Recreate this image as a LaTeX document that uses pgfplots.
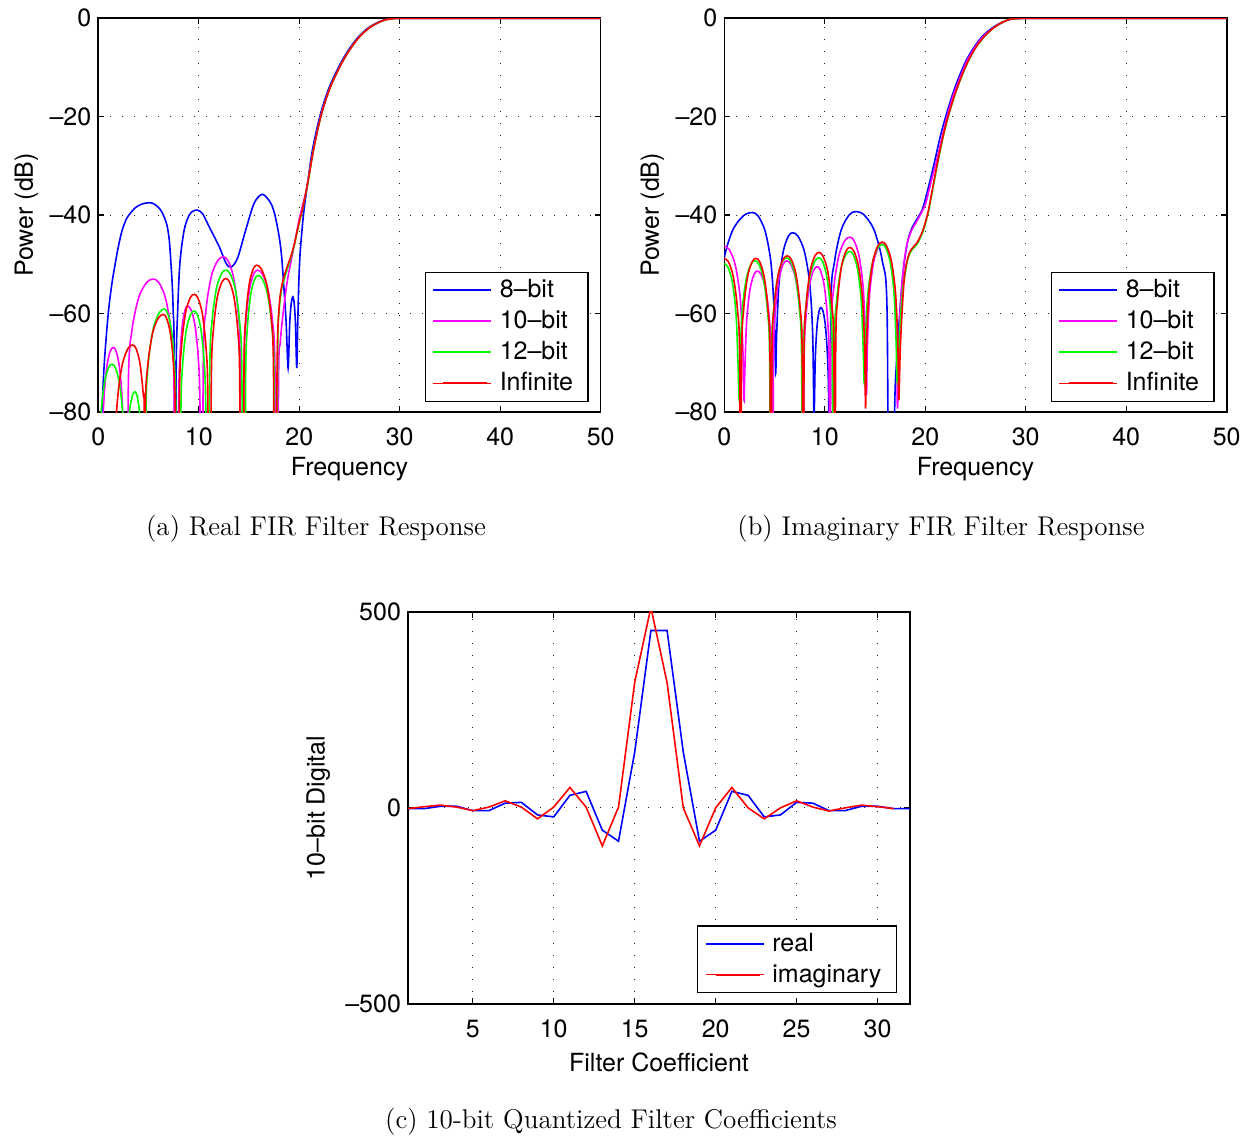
\documentclass[border=0pt]{standalone}
\usepackage{fontspec}
\newfontfamily\hv{TeX Gyre Heros}
\usepackage{pgfplots}
\pgfplotsset{compat=1.18}
\definecolor{mblue}{RGB}{0,0,255}
\definecolor{mmag}{RGB}{255,0,255}
\definecolor{mgreen}{RGB}{0,255,0}
\definecolor{mred}{RGB}{255,0,0}
\newcommand\axf{\hv\fontsize{12.5}{15}\selectfont}
\pgfplotsset{
  myaxis/.style={
    scale only axis, anchor=south west,
    label style={font=\axf},
    tick label style={font=\axf},
    /pgf/number format/assume math mode=true,
    tick align=inside, tick pos=both,
    major tick length=3pt,
    xticklabel shift=4.5pt,
    grid=major,
    major grid style={black!85, line width=0.5pt, dash pattern=on 0.5pt off 5.5pt},
    axis line style={line width=0.8pt},
    every tick/.style={black, line width=0.6pt},
    legend cell align=left,
    legend style={font=\axf, draw=black, line width=0.6pt, fill=white,
      inner xsep=3.5pt, inner ysep=1.25pt, row sep=0pt,
      nodes={inner xsep=4pt, inner ysep=2.45pt}},
    legend image code/.code={\path (-5pt,0pt) -- (24pt,0pt); \draw[#1, line width=0.9pt] (0pt,0pt) -- (22pt,0pt);},
    every axis plot/.append style={line width=0.8pt},
  },
  resp/.style={myaxis, width=251.2pt, height=197pt,
    xmin=0, xmax=50, ymin=-80, ymax=0,
    xtick={0,10,20,30,40,50}, ytick={-80,-60,-40,-20,0},
    yticklabels={–80,–60,–40,–20,0},
    xlabel={Frequency}, ylabel={Power (dB)},
    xlabel style={at={(axis description cs:0.5,-0.1447)}, anchor=center},
    ylabel style={at={(axis description cs:-0.143,0.5)}, anchor=center},
    legend style={at={(0.976,0.0255)}, anchor=south east},
    every axis plot/.append style={smooth, tension=0.5},
  },
}
\begin{document}
\begin{tikzpicture}
\useasboundingbox (0pt,0pt) rectangle (624.5pt,-568.5pt);
% ---------------- (a) ----------------
\begin{axis}[resp, at={(49.15pt,-206pt)}]
\addplot[mblue] coordinates {(0.2,-95) (0.37,-80) (0.6,-70) (0.99,-60) (1.35,-54) (1.69,-49.8) (2.0,-46.4) (2.36,-43.2) (2.82,-40.7) (3.25,-39.5) (3.7,-38.5) (4.3,-37.8) (5.0,-37.5) (5.5,-37.7) (6.06,-38.6) (6.4,-39.7) (6.8,-41.8) (7.05,-44.8) (7.23,-49.8) (7.38,-55) (7.46,-60) (7.55,-68) (7.62,-120) (7.65,-120) (7.75,-72) (7.89,-60) (8.12,-49.8) (8.55,-43) (9.05,-40) (9.45,-39.2) (9.88,-39.0) (10.4,-39.8) (11.04,-42.4) (12.03,-46.4) (12.69,-49.7) (13.19,-50.6) (13.85,-48.8) (14.68,-43.0) (15.51,-37.6) (16.34,-35.8) (17.17,-37.6) (17.6,-40.2) (18.0,-44.4) (18.25,-48.5) (18.49,-55.3) (18.7,-62) (18.89,-71.1) (19.05,-62) (19.2,-58) (19.36,-56.6) (19.5,-58) (19.62,-62) (19.75,-71.1) (19.85,-62) (19.95,-54) (20.05,-49) (20.15,-46) (20.4,-40.3) (20.65,-36.2) (20.85,-33.3) (21.25,-27.5) (21.75,-22.5) (22.25,-18.5) (22.9,-14.5) (23.55,-11.5) (24.3,-8.5) (25.1,-5.9) (25.9,-3.8) (26.8,-2.1) (27.7,-1.0) (28.5,-0.35) (29.4,-0.1) (30.2,-0.05) (50,-0.05)};
\addplot[mmag] coordinates {(0.34,-120) (0.409,-87.4) (0.57,-77.1) (0.858,-70.65) (1.203,-67.59) (1.49,-66.9) (1.763,-67.59) (2.09,-70.65) (2.362,-77.1) (2.515,-87.4) (2.58,-120) (2.84,-120) (2.998,-73.5) (3.366,-63.2) (4.024,-56.75) (4.813,-53.69) (5.47,-53) (6.018,-53.69) (6.675,-56.75) (7.222,-63.2) (7.529,-73.5) (7.66,-120) (7.94,-120) (7.997,-79) (8.13,-68.7) (8.368,-62.25) (8.653,-59.19) (8.89,-58.5) (9.218,-59.19) (9.611,-62.25) (9.938,-68.7) (10.121,-79) (10.2,-120) (10.33,-120) (10.456,-69) (10.75,-58.7) (11.275,-52.25) (11.905,-49.19) (12.43,-48.5) (12.878,-49.19) (13.415,-52.25) (13.862,-58.7) (14.113,-69) (14.22,-120) (14.42,-120) (14.505,-71.7) (14.704,-61.4) (15.059,-54.95) (15.485,-51.89) (15.84,-51.2) (16.305,-51.89) (16.863,-54.95) (17.328,-61.4) (17.588,-71.7) (17.7,-120) (17.8,-120) (17.95,-72) (18.1,-66) (18.39,-60) (18.8,-53.5) (19.32,-48.0) (19.65,-44.5) (19.98,-41.0) (20.3,-38.3) (20.65,-35.4) (20.9,-32.6) (21.35,-27.5) (21.85,-22.5) (22.35,-18.5) (23,-14.5) (23.65,-11.5) (24.4,-8.5) (25.2,-5.9) (26,-3.8) (26.9,-2.1) (27.8,-1.0) (28.6,-0.35) (29.5,-0.1) (30.3,-0.05) (50,-0.05)};
\addplot[mgreen] coordinates {(0,-120) (0.082,-90.8) (0.272,-80.5) (0.612,-74.05) (1.02,-70.99) (1.36,-70.3) (1.695,-70.99) (2.097,-74.05) (2.432,-80.5) (2.62,-90.8) (2.70,-120) (2.729,-96.4) (2.867,-86.1) (3.112,-79.65) (3.407,-76.59) (3.65,-75.9) (3.848,-76.59) (4.085,-79.65) (4.282,-86.1) (4.393,-96.4) (4.44,-120) (4.63,-120) (4.746,-79.6) (5.016,-69.3) (5.499,-62.85) (6.078,-59.79) (6.56,-59.1) (6.868,-59.79) (7.237,-62.85) (7.544,-69.3) (7.716,-79.6) (7.79,-120) (8.136,-120) (8.22,-80) (8.417,-69.7) (8.768,-63.25) (9.189,-60.19) (9.54,-59.5) (9.849,-60.19) (10.219,-63.25) (10.527,-69.7) (10.70,-80) (10.774,-120) (10.99,-120) (11.092,-71.7) (11.33,-61.4) (11.755,-54.95) (12.265,-51.89) (12.69,-51.2) (13.115,-51.89) (13.625,-54.95) (14.05,-61.4) (14.288,-71.7) (14.39,-120) (14.586,-120) (14.665,-72.8) (14.849,-62.5) (15.177,-56.05) (15.571,-52.99) (15.9,-52.3) (16.326,-52.99) (16.837,-56.05) (17.263,-62.5) (17.502,-72.8) (17.604,-120) (17.7,-120) (17.85,-68) (18.0,-59.5) (18.25,-55) (18.5,-53) (18.8,-51) (19.15,-48.8) (19.5,-46.2) (19.82,-43.2) (20.1,-40.7) (20.35,-38.7) (20.9,-32.9) (21.35,-27.5) (21.85,-22.5) (22.35,-18.5) (23,-14.5) (23.65,-11.5) (24.4,-8.5) (25.2,-5.9) (26,-3.8) (26.9,-2.1) (27.8,-1.0) (28.6,-0.35) (29.5,-0.1) (30.3,-0.05) (50,-0.05)};
\addplot[mred] coordinates {(1.582,-120) (1.692,-86.9) (1.95,-76.6) (2.409,-70.15) (2.961,-67.09) (3.42,-66.4) (3.753,-67.09) (4.152,-70.15) (4.484,-76.6) (4.57,-80.5) (4.62,-120) (4.68,-80) (4.929,-70.4) (5.407,-63.95) (5.982,-60.89) (6.46,-60.2) (6.781,-60.89) (7.166,-63.95) (7.486,-70.4) (7.666,-80.7) (7.743,-120) (7.988,-120) (8.081,-76.6) (8.298,-66.3) (8.686,-59.85) (9.152,-56.79) (9.54,-56.1) (9.902,-56.79) (10.336,-59.85) (10.698,-66.3) (10.901,-76.6) (10.988,-120) (11.157,-120) (11.249,-73.4) (11.464,-63.1) (11.847,-56.65) (12.307,-53.59) (12.69,-52.9) (13.058,-53.59) (13.499,-56.65) (13.867,-63.1) (14.073,-73.4) (14.161,-120) (14.422,-120) (14.503,-70.7) (14.692,-60.4) (15.029,-53.95) (15.433,-50.89) (15.77,-50.2) (16.212,-50.89) (16.742,-53.95) (17.184,-60.4) (17.431,-70.7) (17.537,-120) (17.65,-120) (17.8,-70) (18.0,-58.6) (18.25,-54.5) (18.49,-52.5) (18.8,-50.5) (19.15,-48.5) (19.5,-46) (19.82,-43.0) (20.1,-40.5) (20.35,-38.6) (20.9,-32.9) (21.35,-27.5) (21.85,-22.5) (22.35,-18.5) (23,-14.5) (23.65,-11.5) (24.4,-8.5) (25.2,-5.9) (26,-3.8) (26.9,-2.1) (27.8,-1.0) (28.6,-0.35) (29.5,-0.1) (30.3,-0.05) (50,-0.05)};
\legend{8–bit,10–bit,12–bit,Infinite}
\end{axis}
% ---------------- (b) ----------------
\begin{axis}[resp, at={(362.15pt,-206pt)}]
\addplot[mblue] coordinates {(-0.83,-120) (-0.613,-60) (-0.108,-49.7) (0.795,-43.25) (1.878,-40.19) (2.78,-39.5) (3.363,-40.19) (4.062,-43.25) (4.644,-49.7) (4.97,-60) (5.11,-72.2) (5.211,-64.1) (5.448,-53.8) (5.871,-47.35) (6.378,-44.29) (6.8,-43.6) (7.33,-44.29) (7.966,-47.35) (8.496,-53.8) (8.793,-64.1) (8.92,-81) (8.961,-79.3) (9.058,-69.0) (9.231,-62.55) (9.438,-59.49) (9.61,-58.8) (9.818,-59.49) (10.067,-62.55) (10.274,-69.0) (10.39,-79.3) (10.44,-120) (10.599,-59.8) (10.97,-49.5) (11.633,-43.05) (12.428,-39.99) (13.09,-39.3) (13.918,-39.99) (14.91,-43.05) (15.738,-49.5) (16.201,-59.8) (16.4,-120) (16.85,-120) (16.95,-80) (17.2,-68) (17.46,-60) (17.8,-51.5) (18.2,-45.8) (18.6,-43) (19.12,-41.0) (19.72,-38.8) (20.3,-34.5) (20.97,-28.8) (21.5,-24) (22.04,-20) (22.7,-15.6) (23.37,-11.9) (24.1,-8.5) (24.9,-5.8) (25.7,-3.7) (26.6,-2.1) (27.5,-1.0) (28.4,-0.3) (29.4,-0.1) (30.1,-0.05) (50,-0.05)};
\addplot[mmag] coordinates {(0,-46.3) (0.49,-46.99) (1.078,-50.05) (1.568,-56.5) (1.842,-66.8) (1.96,-77.6) (2.039,-71.9) (2.224,-61.6) (2.554,-55.15) (2.95,-52.09) (3.28,-51.4) (3.663,-52.09) (4.122,-55.15) (4.504,-61.6) (4.718,-71.9) (4.81,-120) (4.893,-69.8) (5.088,-59.5) (5.436,-53.05) (5.853,-49.99) (6.2,-49.3) (6.613,-49.99) (7.108,-53.05) (7.52,-59.5) (7.751,-69.8) (7.85,-120) (7.933,-71) (8.128,-60.7) (8.476,-54.25) (8.893,-51.19) (9.24,-50.5) (9.558,-51.19) (9.939,-54.25) (10.256,-60.7) (10.434,-71) (10.51,-120) (10.629,-65) (10.906,-54.7) (11.401,-48.25) (11.995,-45.19) (12.49,-44.5) (12.905,-45.19) (13.403,-48.25) (13.818,-54.7) (14.05,-65) (14.15,-76.5) (14.244,-66.4) (14.462,-56.1) (14.852,-49.65) (15.32,-46.59) (15.71,-45.9) (16.093,-46.59) (16.552,-49.65) (16.934,-56.1) (17.148,-66.4) (17.24,-79.3) (17.45,-62) (17.63,-55.3) (17.9,-49.5) (18.2,-45.8) (18.6,-43.3) (19.12,-41.4) (19.6,-39.6) (20.05,-37.6) (20.55,-33.5) (21.15,-28.8) (21.7,-24) (22.17,-20) (22.8,-15.6) (23.5,-11.9) (24.2,-8.5) (25.0,-5.8) (25.8,-3.7) (26.7,-2.1) (27.6,-1.0) (28.4,-0.28) (29.4,-0.1) (30.1,-0.05) (50,-0.05)};
\addplot[mgreen] coordinates {(0,-49.9) (0.365,-50.59) (0.803,-53.65) (1.168,-60.1) (1.372,-70.4) (1.46,-76.9) (1.555,-69.8) (1.778,-59.5) (2.176,-53.05) (2.653,-49.99) (3.05,-49.3) (3.44,-49.99) (3.908,-53.05) (4.298,-59.5) (4.516,-69.8) (4.61,-120) (4.705,-69.2) (4.928,-58.9) (5.326,-52.45) (5.803,-49.39) (6.2,-48.7) (6.598,-49.39) (7.075,-52.45) (7.472,-58.9) (7.695,-69.2) (7.79,-120) (7.887,-69.2) (8.114,-58.9) (8.519,-52.45) (9.005,-49.39) (9.41,-48.7) (9.768,-49.39) (10.197,-52.45) (10.554,-58.9) (10.754,-69.2) (10.84,-120) (10.939,-67.9) (11.17,-57.6) (11.583,-51.15) (12.078,-48.09) (12.49,-47.4) (12.848,-48.09) (13.277,-51.15) (13.634,-57.6) (13.834,-67.9) (13.92,-74.0) (14.027,-66.5) (14.278,-56.2) (14.726,-49.75) (15.263,-46.69) (15.71,-46.0) (16.083,-46.69) (16.53,-49.75) (16.902,-56.2) (17.111,-66.5) (17.2,-73.8) (17.4,-66) (17.6,-59) (17.8,-54.5) (17.96,-52.4) (18.2,-49.5) (18.46,-47.8) (18.8,-46.8) (19.12,-46.1) (19.45,-44.9) (19.78,-43.3) (20.05,-41.5) (20.35,-39.0) (20.8,-34.1) (21.27,-29.1) (21.75,-24.4) (22.27,-20.2) (22.9,-15.9) (23.6,-12.0) (24.3,-8.7) (25.09,-5.85) (25.9,-3.75) (26.75,-2.1) (27.6,-0.95) (28.4,-0.27) (29.3,-0.1) (30.07,-0.05) (50,-0.05)};
\addplot[mred] coordinates {(0,-48.8) (0.408,-49.49) (0.897,-52.55) (1.304,-59.0) (1.532,-69.3) (1.63,-120) (1.721,-69.3) (1.934,-59.0) (2.314,-52.55) (2.77,-49.49) (3.15,-48.8) (3.523,-49.49) (3.97,-52.55) (4.342,-59.0) (4.551,-69.3) (4.64,-120) (4.737,-68.8) (4.964,-58.5) (5.369,-52.05) (5.855,-48.99) (6.26,-48.3) (6.658,-48.99) (7.135,-52.05) (7.532,-58.5) (7.755,-68.8) (7.85,-120) (7.944,-68.1) (8.162,-57.8) (8.552,-51.35) (9.02,-48.29) (9.41,-47.6) (9.808,-48.29) (10.285,-51.35) (10.682,-57.8) (10.905,-68.1) (11.0,-120) (11.089,-67.1) (11.298,-56.8) (11.671,-50.35) (12.118,-47.29) (12.49,-46.6) (12.883,-47.29) (13.354,-50.35) (13.746,-56.8) (13.966,-67.1) (14.06,-79.3) (14.159,-66) (14.39,-55.7) (14.803,-49.25) (15.298,-46.19) (15.71,-45.5) (16.125,-46.19) (16.623,-49.25) (17.038,-55.7) (17.27,-66) (17.37,-77.6) (17.5,-68) (17.63,-62) (17.8,-56) (17.96,-51.9) (18.2,-49.2) (18.46,-47.5) (18.8,-46.5) (19.12,-45.8) (19.45,-44.6) (19.78,-43.0) (20.05,-41.2) (20.35,-38.7) (20.8,-33.8) (21.27,-28.8) (21.75,-24.2) (22.27,-20) (22.9,-15.8) (23.6,-11.9) (24.3,-8.6) (25.09,-5.8) (25.9,-3.7) (26.75,-2.1) (27.6,-0.95) (28.4,-0.27) (29.3,-0.1) (30.07,-0.05) (50,-0.05)};
\legend{8–bit,10–bit,12–bit,Infinite}
\end{axis}
% ---------------- (c) ----------------
\begin{axis}[myaxis, at={(204pt,-502pt)}, width=251pt, height=196.15pt,
  xmin=1, xmax=32, ymin=-500, ymax=500,
  xtick={5,10,15,20,25,30}, ytick={-500,0,500},
  yticklabels={–500,0,500},
  xlabel={Filter Coefficient}, ylabel={10–bit Digital},
  xlabel style={at={(axis description cs:0.5,-0.148)}, anchor=center},
  ylabel style={at={(axis description cs:-0.179,0.5)}, anchor=center},
  legend style={at={(0.974,0.028)}, anchor=south east}]
\addplot[mblue] coordinates {(1,-2) (2,-2) (3,4) (4,4) (5,-7) (6,-7) (7,12) (8,14) (9,-18) (10,-23) (11,32) (12,42) (13,-57) (14,-85) (15,142) (16,452) (17,452) (18,142) (19,-85) (20,-57) (21,42) (22,32) (23,-23) (24,-18) (25,14) (26,12) (27,-7) (28,-7) (29,4) (30,4) (31,-2) (32,-2)};
\addplot[mred] coordinates {(1,-2) (2,3) (3,7) (4,2) (5,-7) (6,2) (7,18) (8,2) (9,-28) (10,2) (11,52) (12,2) (13,-97) (14,2) (15,320) (16,511) (17,319) (18,0) (19,-97) (20,0) (21,52) (22,0) (23,-28) (24,0) (25,18) (26,2) (27,-8) (28,0) (29,7) (30,3) (31,-2)};
\legend{real,imaginary}
\end{axis}
% ---------------- captions ----------------
\node[font=\fontsize{13.55}{16}\selectfont] at (158pt,-264.5pt) {(a) Real FIR Filter Response};
\node[font=\fontsize{13.55}{16}\selectfont] at (470.5pt,-264.5pt) {(b) Imaginary FIR Filter Response};
\node[font=\fontsize{13.55}{16}\selectfont] at (305.5pt,-561pt) {(c) 10-bit Quantized Filter Coefficients};
\end{tikzpicture}
\end{document}
